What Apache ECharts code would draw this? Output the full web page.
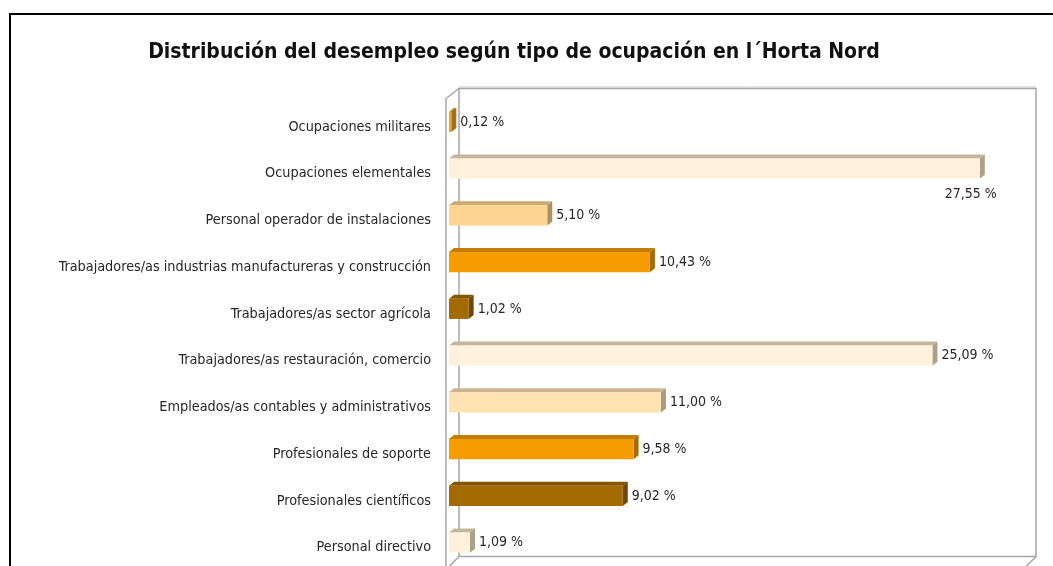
<!DOCTYPE html>
<html>
<head>
<meta charset="utf-8">
<script src="https://cdn.jsdelivr.net/npm/echarts@6/dist/echarts.min.js"></script>
<style>
  html, body { margin: 0; padding: 0; background: #fff; }
  #chart { width: 1053px; height: 566px; }
</style>
</head>
<body>
<div id="chart"></div>
<script>
// categories, top to bottom
const categories = [
  'Ocupaciones militares',
  'Ocupaciones elementales',
  'Personal operador de instalaciones',
  'Trabajadores/as industrias manufactureras y construcción',
  'Trabajadores/as sector agrícola',
  'Trabajadores/as restauración, comercio',
  'Empleados/as contables y administrativos',
  'Profesionales de soporte',
  'Profesionales científicos',
  'Personal directivo'
]
const values = [0.12, 27.55, 5.10, 10.43, 1.02, 25.09, 11.00, 9.58, 9.02, 1.09]

// front colour of each bar
const barColors = [
  '#E9A12B', '#FFF2DC', '#FFD591', '#F59D00', '#A36A00',
  '#FFF2DC', '#FFE3B3', '#F59D00', '#A36A00', '#FFF2DC'
]

const FONT = '"Liberation Sans Narrow", "DejaVu Sans Condensed", sans-serif'
const W = 1053, H = 566
const grid = { left: 449, right: 26, top: 98.5, bottom: -2.5 }
const DX = 5, DY = 4 // depth of bars

const shade = (hex, k) => {
  const n = parseInt(hex.slice(1), 16)
  const r = Math.round(((n >> 16) & 255) * k)
  const g = Math.round(((n >> 8) & 255) * k)
  const b = Math.round((n & 255) * k)
  return 'rgb(' + r + ',' + g + ',' + b + ')'
}
const fmt = v => v.toFixed(2).replace('.', ',') + ' %'

const chart = echarts.init(document.getElementById('chart'))

const gl = grid.left, gt = grid.top
const gw = W - grid.left - grid.right, gh = H - grid.top - grid.bottom
const boxColor = '#A6A6A6'

const option = {
  animation: false,
  title: {
    text: 'Distribución del desempleo según tipo de ocupación en l´Horta Nord',
    left: 509,
    textAlign: 'center',
    top: 37,
    textStyle: { fontFamily: FONT, fontSize: 21, fontWeight: 'bold', color: '#111' }
  },
  grid: grid,
  xAxis: {
    type: 'value',
    min: 0,
    max: 30,
    show: false
  },
  yAxis: {
    type: 'category',
    data: categories,
    inverse: true,
    axisLine: { show: false },
    axisTick: { show: false },
    axisLabel: {
      margin: 18,
      verticalAlign: 'top',
      lineHeight: 10,
      fontFamily: FONT,
      fontSize: 14.3,
      color: '#262626'
    }
  },
  graphic: [
    // outer frame
    { type: 'rect', shape: { x: 10, y: 14, width: 1100, height: 600 },
      style: { fill: 'none', stroke: '#000', lineWidth: 2 }, z: 0 },
    // back wall
    { type: 'rect', shape: { x: gl + 10, y: gt - 10, width: gw - 1, height: gh - 2 },
      style: { fill: 'none', stroke: boxColor, lineWidth: 1.5 }, z: 0 },
    { type: 'line', shape: { x1: gl + 10, y1: gt - 11.5, x2: gl + 10 + gw - 1, y2: gt - 11.5 },
      style: { stroke: '#C8C8C8', lineWidth: 1 }, z: 0 },
    // left wall
    { type: 'polyline', shape: { points: [[gl - 3, H + 5], [gl - 3, gt], [gl + 10, gt - 10]] },
      style: { fill: 'none', stroke: boxColor, lineWidth: 1.5 }, z: 0 },
    // floor edges
    { type: 'line', shape: { x1: gl + 10, y1: gt - 10 + gh - 2, x2: gl, y2: gt + gh - 2 },
      style: { stroke: boxColor, lineWidth: 1.5 }, z: 0 },
    { type: 'line', shape: { x1: gl + 9 + gw, y1: gt - 10 + gh - 2, x2: gl - 1 + gw, y2: gt + gh - 2 },
      style: { stroke: boxColor, lineWidth: 1.5 }, z: 0 }
  ],
  series: [
    {
      type: 'custom',
      data: values.map((v, i) => [v, i]),
      encode: { x: 0, y: 1 },
      renderItem: (params, api) => {
        const val = api.value(0)
        const cat = api.value(1)
        const p0 = api.coord([0, cat])
        const p1 = api.coord([val, cat])
        const pMax = api.coord([30, cat])
        const h = api.size([0, 1])[1] * 0.43
        const x0 = p0[0], x1 = p1[0]
        const y0 = p0[1] - h / 2, y1 = p0[1] + h / 2
        const c = barColors[params.dataIndex]
        const light = c === '#FFF2DC'
        const top = light ? '#C4B59C' : shade(c, 0.8)
        const side = light ? '#ADA088' : shade(c, 0.68)
        // label goes under the bar when it would not fit before the back wall
        const below = x1 + DX + 52 > pMax[0]
        const label = below
          ? { type: 'text', style: { text: fmt(val), x: x1 + DX + 12, y: y1 + 16,
              align: 'right', verticalAlign: 'middle', fontFamily: FONT, fontSize: 14, fill: '#262626' } }
          : { type: 'text', style: { text: fmt(val), x: x1 + DX + 4, y: p0[1],
              align: 'left', verticalAlign: 'middle', fontFamily: FONT, fontSize: 14, fill: '#262626' } }
        return {
          type: 'group',
          children: [
            { type: 'polygon', shape: { points: [[x0, y0], [x0 + DX, y0 - DY], [x1 + DX, y0 - DY], [x1, y0]] },
              style: { fill: top } },
            { type: 'polygon', shape: { points: [[x1, y0], [x1 + DX, y0 - DY], [x1 + DX, y1 - DY], [x1, y1]] },
              style: { fill: side } },
            { type: 'rect', shape: { x: x0, y: y0, width: x1 - x0, height: h },
              style: { fill: c } },
            label
          ]
        }
      }
    }
  ]
}

chart.setOption(option)
</script>
</body>
</html>
